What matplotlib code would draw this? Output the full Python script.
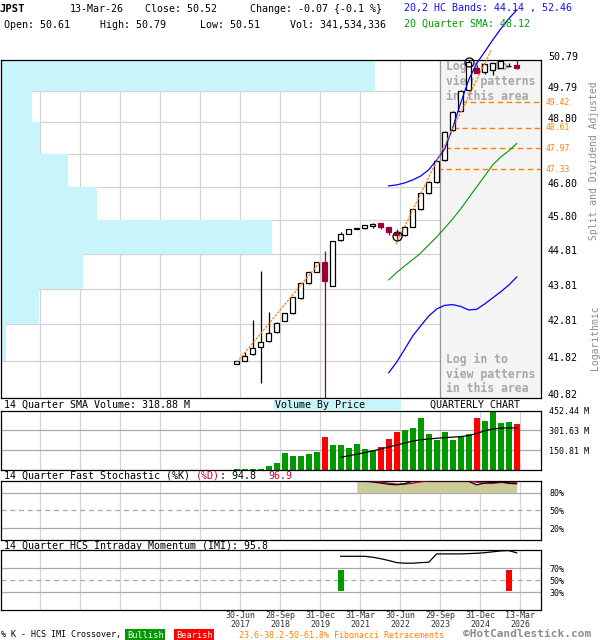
import numpy as np
import matplotlib
matplotlib.use("Agg")
import matplotlib.pyplot as plt
from matplotlib.patches import Rectangle
from matplotlib.ticker import NullLocator

# ---------------- data ----------------
symbol = "JPST"
last_date = "13-Mar-26"
header_row1 = ["13-Mar-26", "Close: 50.52", "Change: -0.07 {-0.1 %}"]
header_row2 = ["Open: 50.61", "High: 50.79", "Low: 50.51", "Vol: 341,534,336"]
bands_text = "20,2 HC Bands: 44.14 , 52.46"
sma_text = "20 Quarter SMA: 48.12"

# quarterly candles, index 0 = Q2-2017 ... 35 = Q1-2026
opens  = [41.74, 41.80, 42.01, 42.19, 42.34, 42.59, 42.90, 43.12, 43.54, 43.96,
          44.29, 44.57, 43.89, 45.20, 45.40, 45.53, 45.55, 45.61, 45.71, 45.58,
          45.43, 45.37, 45.60, 46.13, 46.60, 46.95, 47.61, 48.54, 49.15, 49.82,
          50.54, 50.39, 50.46, 50.54, 50.58, 50.61]
highs  = [41.80, 42.06, 42.93, 44.31, 43.16, 42.88, 43.13, 43.58, 43.97, 44.29,
          44.57, 44.89, 45.19, 45.45, 45.54, 45.57, 45.65, 45.71, 45.72, 45.59,
          45.53, 45.61, 46.14, 46.61, 46.96, 47.59, 48.50, 49.13, 49.80, 50.78,
          50.63, 50.66, 50.70, 50.77, 50.70, 50.79]
lows   = [41.72, 41.80, 41.96, 41.21, 42.32, 42.56, 42.89, 43.10, 43.53, 43.95,
          44.28, 40.60, 43.88, 45.19, 45.39, 45.52, 45.53, 45.57, 45.54, 45.36,
          45.21, 45.34, 45.58, 46.10, 46.58, 46.92, 47.59, 48.52, 49.13, 49.80,
          50.35, 50.33, 50.30, 50.52, 50.57, 50.51]
closes = [41.80, 41.94, 42.15, 42.32, 42.56, 42.86, 43.12, 43.57, 43.96, 44.28,
          44.56, 44.02, 45.18, 45.40, 45.53, 45.56, 45.64, 45.68, 45.58, 45.44,
          45.37, 45.60, 46.13, 46.60, 46.95, 47.58, 48.49, 49.12, 49.79, 50.74,
          50.36, 50.65, 50.68, 50.76, 50.59, 50.52]
volumes_m = [10, 10, 10, 10, 33, 55, 131, 108, 108, 121, 138, 251, 191, 191, 168, 199,
             161, 151, 176, 236, 289, 307, 319, 395, 274, 231, 289, 229, 254, 274,
             395, 372, 452.44, 354, 364, 349]
vol_sma_start = 13
vol_sma_m = [97, 108, 120, 132, 145, 160, 175, 190, 205, 220, 230, 236, 241, 246,
             250, 254, 262, 278, 298, 312, 318, 320, 318.88]

band_start = 19
upper_band = [46.82, 46.85, 46.91, 47.00, 47.12, 47.31, 47.61, 47.95, 48.61, 49.40,
              50.14, 50.68, 51.06, 51.45, 51.82, 52.16, 52.46]
lower_band = [41.49, 41.78, 42.13, 42.49, 42.77, 43.04, 43.24, 43.34, 43.36, 43.31,
              43.21, 43.23, 43.38, 43.55, 43.72, 43.91, 44.14]
sma20 = [44.06, 44.27, 44.46, 44.64, 44.83, 45.07, 45.30, 45.56, 45.83, 46.13,
         46.46, 46.79, 47.12, 47.46, 47.70, 47.89, 48.12]

trend_x = [[0, 10.4], [19.9, 31.8]]
trend_y = [[41.77, 44.57], [45.09, 51.10]]
signal_idx = [20, 29]
signal_price = [45.33, 50.74]

fib_levels = [49.42, 48.61, 47.97, 47.33]
fib_start_idx = [28, 27, 26, 25]

price_ticks = [40.82, 41.82, 42.81, 43.81, 44.81, 45.80, 46.80, 47.80, 48.80, 49.79, 50.79]
price_tick_labels = ["40.82", "41.82", "42.81", "43.81", "44.81", "45.80", "46.80",
                     "", "48.80", "49.79", "50.79"]
vbp_volume = [0.8, 4.0, 30.4, 65.6, 217.6, 76.8, 53.6, 31.2, 24.8, 300.0]  # per price bin, bottom->top

stoch_start = 15
stoch_k = [99, 99, 98, 96, 94, 93, 95, 99, 100, 100, 100, 100, 100, 100, 99, 93, 96, 97, 98, 95.5, 94.8]
stoch_d = [99.5, 99.3, 98.7, 97.7, 96, 94.3, 94, 95.7, 98, 99.7, 100, 100, 100, 100, 99.7,
           97.3, 96, 95.3, 97, 96.8, 96.9]

imi_start = 13
imi = [90, 90, 90, 90, 88.5, 86, 83, 79.5, 78.5, 78.5, 79.5, 80, 94, 94, 94, 94, 94.5,
       95, 96, 97.5, 99, 99.5, 95.8]
cross_idx = [13, 34]
cross_bull = [True, False]
cross_range = (33, 67)

date_idx = [0, 5, 10, 15, 20, 25, 30, 35]
date_labels = ["30-Jun\n2017", "28-Sep\n2018", "31-Dec\n2019", "31-Mar\n2021",
               "30-Jun\n2022", "29-Sep\n2023", "31-Dec\n2024", "13-Mar\n2026"]
pattern_start_idx = 25

# ---------------- layout ----------------
W, H = 600, 640
MONO = 'DejaVu Sans Mono'
plt.rcParams['font.family'] = [MONO, 'DejaVu Sans']
fig = plt.figure(figsize=(W / 100, H / 100), dpi=100)
fig.patch.set_facecolor('white')

FIRST_PX, Q_PX = 236.7, 8.0
L, R = 1, 541
XLIM = ((L - FIRST_PX) / Q_PX, (R - FIRST_PX) / Q_PX)
GRID_OFF = 0.41
grid_pos = np.arange(-25, 36, 5) + GRID_OFF

RED_C = '#990033'
GREEN = '#009900'
CYAN = '#c8f4fc'
ORANGE = '#ff8000'
GRID_C = '#d3d3d3'


def rect(top, bottom):
    return [L / W, 1 - bottom / H, (R - L) / W, (bottom - top) / H]


def ftext(x, y, s, **kw):
    kw.setdefault('va', 'center')
    kw.setdefault('ha', 'left')
    kw.setdefault('fontsize', 7.2)
    return fig.text(x / W, 1 - y / H, s, **kw)


def style_spines(a):
    for sp in a.spines.values():
        sp.set_color('black')
        sp.set_linewidth(0.9)


def vgrid(a):
    for g in grid_pos:
        a.axvline(g, color=GRID_C, lw=0.9, zorder=0)


# ---------------- main price panel ----------------
main_rect = rect(60, 398)
ax_bg = fig.add_axes(main_rect, zorder=0)
ax_vbp = fig.add_axes(main_rect, zorder=1)
ax = fig.add_axes(main_rect, zorder=2)
ymin, ymax = price_ticks[0], price_ticks[-1]

shade_x = pattern_start_idx + GRID_OFF
ax_bg.set_xlim(*XLIM)
ax_bg.set_yscale('log')
ax_bg.set_ylim(ymin, ymax)
ax_bg.axvspan(shade_x, XLIM[1], color='#f4f4f4', lw=0)
vgrid(ax_bg)
for t in price_ticks:
    ax_bg.axhline(t, color=GRID_C, lw=0.9, zorder=0)
ax_bg.axvline(shade_x, color='#999999', lw=0.9, zorder=1)
ax_bg.axis('off')

edges = np.array(price_ticks)
ax_vbp.set_yscale('log')
ax_vbp.set_ylim(ymin, ymax)
ax_vbp.set_xlim(0, max(vbp_volume) * (R - L) / 374.0)
ax_vbp.barh(edges[:-1], vbp_volume, height=np.diff(edges), align='edge', color=CYAN, lw=0)
ax_vbp.axis('off')

ax.patch.set_alpha(0)
ax.set_xlim(*XLIM)
ax.set_yscale('log')
ax.set_ylim(ymin, ymax)
ax.set_xticks([])
ax.yaxis.tick_right()
ax.set_yticks(price_ticks)
ax.set_yticklabels(price_tick_labels)
ax.yaxis.set_minor_locator(NullLocator())
ax.tick_params(axis='y', length=0, pad=5, labelsize=7.2)
for lbl in ax.get_yticklabels():
    lbl.set_va('baseline')
style_spines(ax)

# "Log in" texts (below candles)
for y0 in (66, 359):
    for i, line in enumerate(["Log in to", "view patterns", "in this area"]):
        ax.text(446 / W, 1 - (y0 + i * 15) / H, line, transform=fig.transFigure,
                fontsize=8.3, fontweight='bold', color='#a8a8a8', va='center',
                ha='left', zorder=1)

# fib lines
for lvl, s in zip(fib_levels, fib_start_idx):
    ax.hlines(lvl, s, XLIM[1], colors=ORANGE, linestyles=(0, (4, 2.5)), lw=1.0, zorder=2)
    ax.annotate(f"{lvl:.2f}", xy=(1, lvl), xycoords=('axes fraction', 'data'),
                xytext=(3, 0), textcoords='offset points', fontsize=5.8,
                color=ORANGE, va='center', ha='left', annotation_clip=False)

# candles
x = np.arange(len(opens))
o, h, l, c = (np.array(v) for v in (opens, highs, lows, closes))
up = c >= o
lo_b = np.minimum(o, c)
hi_b = np.maximum(o, c)
ax.vlines(x[up], l[up], h[up], color='black', lw=0.9, zorder=4)
ax.vlines(x[~up], l[~up], h[~up], color=RED_C, lw=0.9, zorder=4)
ax.bar(x[up], hi_b[up] - lo_b[up], bottom=lo_b[up], width=0.62,
       facecolor='white', edgecolor='black', lw=0.9, zorder=5)
ax.bar(x[~up], hi_b[~up] - lo_b[~up], bottom=lo_b[~up], width=0.62,
       facecolor=RED_C, edgecolor=RED_C, lw=0.9, zorder=5)

# indicator lines
xb = np.arange(band_start, band_start + len(upper_band))
ax.plot(xb, upper_band, color='#0000ff', lw=0.9, zorder=6, clip_on=False)
ax.plot(xb, lower_band, color='#0000ff', lw=0.9, zorder=6)
ax.plot(xb, sma20, color=GREEN, lw=0.8, zorder=6)
for tx, ty in zip(trend_x, trend_y):
    ax.plot(tx, ty, color='#ff7f0e', lw=0.9, ls=(0, (2, 1)), zorder=6, clip_on=False)
ax.plot(signal_idx, signal_price, 'o', ms=6.5, mfc='none', mec='black', mew=0.9,
        zorder=7, clip_on=False)

# ---------------- volume panel ----------------
ax_vol = fig.add_axes(rect(410.5, 470))
vmax = max(volumes_m)
ax_vol.set_xlim(*XLIM)
ax_vol.set_ylim(0, vmax)
vgrid(ax_vol)
vticks = [vmax / 3, 2 * vmax / 3, vmax]
for t in vticks[:2]:
    ax_vol.axhline(t, color='#a9a9a9', lw=0.9, zorder=0)
vcol = np.where(up, GREEN, '#ff0000')
ax_vol.bar(x, volumes_m, width=0.75, color=vcol, lw=0, zorder=2)
xs = np.arange(vol_sma_start, vol_sma_start + len(vol_sma_m))
ax_vol.plot(xs, vol_sma_m, color='black', lw=0.9, zorder=3)
ax_vol.set_xticks([])
ax_vol.yaxis.tick_right()
ax_vol.set_yticks(vticks)
ax_vol.set_yticklabels([f"{t:.2f} M" for t in vticks])
ax_vol.tick_params(axis='y', length=0, pad=6, labelsize=6)
style_spines(ax_vol)

# ---------------- stochastic panel ----------------
ax_st = fig.add_axes(rect(480.7, 540))
ax_st.set_xlim(*XLIM)
ax_st.set_ylim(0, 100)
vgrid(ax_st)
ax_st.axhline(80, color='#a9a9a9', lw=0.9, zorder=0)
ax_st.axhline(20, color='#a9a9a9', lw=0.9, zorder=0)
ax_st.axhline(50, color='#a9a9a9', lw=0.9, ls=(0, (4, 3)), zorder=0)
xk = np.arange(stoch_start, stoch_start + len(stoch_k))
sk = np.array(stoch_k)
ax_st.fill_between(xk, 80, sk, where=sk > 80, color='#cccc99', lw=0, zorder=1, interpolate=True)
ax_st.plot(xk, stoch_d, color='#cc0033', lw=0.9, zorder=3)
ax_st.plot(xk, stoch_k, color='black', lw=0.9, zorder=3)
ax_st.set_xticks([])
ax_st.yaxis.tick_right()
ax_st.set_yticks([80, 50, 20])
ax_st.set_yticklabels(["80%", "50%", "20%"])
ax_st.tick_params(axis='y', length=0, pad=6, labelsize=6)
style_spines(ax_st)

# ---------------- IMI panel ----------------
ax_imi = fig.add_axes(rect(550.3, 610.3))
ax_imi.set_xlim(*XLIM)
ax_imi.set_ylim(0, 100)
vgrid(ax_imi)
ax_imi.axhline(70, color='#a9a9a9', lw=0.9, zorder=0)
ax_imi.axhline(30, color='#a9a9a9', lw=0.9, zorder=0)
ax_imi.axhline(50, color='#a9a9a9', lw=0.9, ls=(0, (4, 3)), zorder=0)
xi = np.arange(imi_start, imi_start + len(imi))
ax_imi.plot(xi, imi, color='black', lw=0.9, zorder=3)
for ci, bull in zip(cross_idx, cross_bull):
    ax_imi.bar(ci, cross_range[1] - cross_range[0], bottom=cross_range[0], width=0.75,
               color=GREEN if bull else '#ff0000', lw=0, zorder=2)
ax_imi.yaxis.tick_right()
ax_imi.set_yticks([70, 50, 30])
ax_imi.set_yticklabels(["70%", "50%", "30%"])
ax_imi.tick_params(axis='y', length=0, pad=6, labelsize=6)
lab_map = {i + GRID_OFF: s for i, s in zip(date_idx, date_labels)}
ax_imi.set_xticks(grid_pos)
ax_imi.set_xticklabels([lab_map.get(g, "") for g in grid_pos])
ax_imi.tick_params(axis='x', length=0, pad=0.8, labelsize=6, labelcolor='#333333')
for lbl in ax_imi.get_xticklabels():
    lbl.set_linespacing(0.9)
style_spines(ax_imi)

# ---------------- texts ----------------
CW = 6.0
ftext(0, 9, symbol, fontweight='bold', fontsize=7.6)
for xp, s in zip([70, 145, 250], header_row1):
    ftext(xp, 9, s)
for xp, s in zip([4.5, 99.5, 200, 290], header_row2):
    ftext(xp, 25, s)
ftext(404.5, 8, bands_text, color='#1010ff')
ftext(404.5, 24, sma_text, color=GREEN)

ftext(594, 161, "Split and Dividend Adjusted", rotation=90, ha='center', color='#8c8c8c', fontsize=7)
ftext(595, 338, "Logarithmic", rotation=90, ha='center', color='#8c8c8c', fontsize=7)

ftext(4, 405, "14 Quarter SMA Volume: 318.88 M")
fig.add_artist(Rectangle((273 / W, 1 - 410 / H), (401 - 273) / W, 10 / H,
                         transform=fig.transFigure, facecolor=CYAN, edgecolor='none', zorder=2))
ftext(275, 405, "Volume By Price", zorder=4)
ftext(430.5, 405, "QUARTERLY CHART")

st1 = "14 Quarter Fast Stochastic (%K) "
ftext(4, 476, st1)
ftext(4 + len(st1) * CW, 476, "(%D)", color='#cc0033')
ftext(4 + (len(st1) + 4) * CW, 476, ": 94.8")
ftext(4 + (len(st1) + 12) * CW, 476, "96.9", color='#cc0033')

ftext(4, 546, "14 Quarter HCS Intraday Momentum (IMI): 95.8")

ftext(1, 635, "% K - HCS IMI Crossover,", fontsize=6)
ftext(127, 635, "Bullish", fontsize=6.2, color='white',
      bbox=dict(facecolor=GREEN, edgecolor='none', pad=1.2))
ftext(176, 635, "Bearish", fontsize=6.2, color='white',
      bbox=dict(facecolor='#ff0000', edgecolor='none', pad=1.2))
ftext(239, 635, "23.6-38.2-50-61.8% Fibonacci Retracements", fontsize=6, color=ORANGE)
ftext(463, 634, "\u00a9HotCandlestick.com", fontsize=8.0, fontweight='bold', color='#8c8c8c')

fig.savefig("out.png", dpi=100, facecolor='white')
